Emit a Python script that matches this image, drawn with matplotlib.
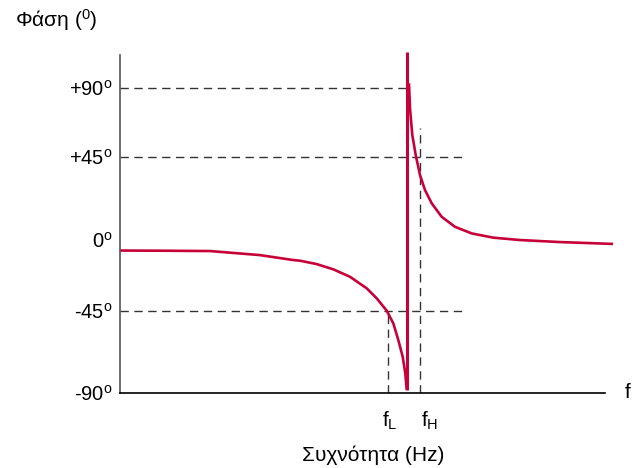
import matplotlib
matplotlib.use("Agg")
import matplotlib.pyplot as plt

plt.rcParams['font.family'] = ['Liberation Sans', 'DejaVu Sans']
plt.rcParams['mathtext.fontset'] = 'custom'
plt.rcParams['mathtext.rm'] = 'Liberation Sans'
plt.rcParams['mathtext.it'] = 'Liberation Sans'

# ---- data (x: arbitrary frequency units, y: phase in the chart's schematic scale) ----
left_x = [0, 40, 90, 140, 173, 180, 196.7, 213.3, 230, 246.7, 256.7, 266.7,
          273.3, 278.3, 282.7, 285.3, 286.7]
left_phase = [-5.9, -6.0, -6.2, -8.6, -11.5, -11.9, -13.9, -17.0, -21.4, -28.2,
              -34.1, -41.4, -48.9, -58.7, -68.6, -78.4, -88.2]

right_x = [289, 290, 292.3, 295.7, 300, 305, 311.7, 321.7, 335, 351.7, 373.3,
           400, 440, 493]
right_phase = [92.8, 78.0, 62.3, 50.5, 38.7, 29.8, 22.0, 14.0, 8.1, 4.2, 1.7,
               0.3, -0.9, -2.0]

resonance_x = 287.5
resonance_span = [-88.2, 111.3]

tick_pos = [90.0, 49.3, 0.3, -41.6, -90.0]
tick_labels = ['+90$^{\\mathrm{o}}$', '+45$^{\\mathrm{o}}$', '0$^{\\mathrm{o}}$',
               '-45$^{\\mathrm{o}}$', '-90$^{\\mathrm{o}}$']

fL_x, fH_x = 268, 300
fH_top = 66.4

red = '#c8003a'

fig = plt.figure(figsize=(6.39, 4.68), dpi=100)
ax = fig.add_axes([120/639, 1-393/468, (615-120)/639, (393-52)/468])
ax.set_xlim(0, 495)
ax.set_ylim(-90, 111.3)

# dashed guides
dash = dict(color='#333333', lw=1.0, ls=(0, (6, 4)))
ax.plot([0, resonance_x], [tick_pos[0]] * 2, **dash)
ax.plot([0, 345], [tick_pos[1]] * 2, **dash)
ax.plot([0, 345], [tick_pos[3]] * 2, **dash)
ax.plot([fL_x, fL_x], [-90, tick_pos[3]], **dash)
ax.plot([fH_x, fH_x], [-90, fH_top], **dash)

# curves
ax.plot(left_x, left_phase, color=red, lw=1.9, solid_capstyle='butt',
        solid_joinstyle='round')
ax.plot(right_x, right_phase, color=red, lw=1.9, solid_capstyle='butt',
        solid_joinstyle='round')
ax.plot([resonance_x, resonance_x], resonance_span, color=red, lw=2.2,
        solid_capstyle='butt')

# spines
for s in ['top', 'right']:
    ax.spines[s].set_visible(False)
ax.spines['left'].set_bounds(-90, 109.5)
ax.spines['left'].set_color('#555555')
ax.spines['bottom'].set_bounds(0, 485)
ax.spines['bottom'].set_color('black')
ax.spines['left'].set_linewidth(1.2)
ax.spines['bottom'].set_linewidth(1.2)

ax.set_yticks(tick_pos)
ax.set_yticklabels(tick_labels, fontsize=14.5)
ax.tick_params(axis='y', length=0, pad=5)
ax.set_xticks([])
ax.patch.set_visible(False)

# texts
fig.text(15/639, 1-20/468, 'Φάση ($^{0}$)', fontsize=15, ha='left', va='center')
ax.text(fL_x + 2, -100, 'f$_{\\mathrm{L}}$', fontsize=15, ha='center', va='top')
ax.text(fH_x + 10, -100, 'f$_{\\mathrm{H}}$', fontsize=15, ha='center', va='top')
fig.text(628/639, 1-393/468, 'f', fontsize=15, ha='center', va='center')
fig.text(373/639, 1-455/468, 'Συχνότητα (Hz)', fontsize=15, ha='center', va='center')

fig.savefig('out.png', dpi=100)
